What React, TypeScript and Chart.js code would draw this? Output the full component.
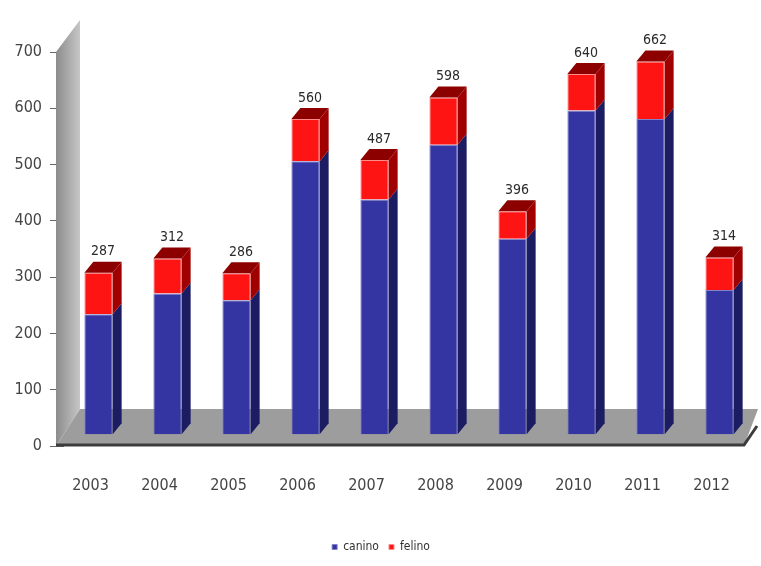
import React, { useEffect, useRef } from "react";
import { Chart, registerables } from "chart.js";

Chart.register(...registerables);

const years = ["2003", "2004", "2005", "2006", "2007", "2008", "2009", "2010", "2011", "2012"];
const canino = [213, 250, 238, 485, 417, 514, 347, 575, 560, 256];
const felino = [74, 62, 48, 75, 70, 84, 49, 65, 102, 58];
const totals = [287, 312, 286, 560, 487, 598, 396, 640, 662, 314];
const seriesNames = ["canino", "felino"];

const FONT = "'Liberation Sans Narrow', 'DejaVu Sans Condensed', 'Liberation Sans', Arial, sans-serif";
const DX = 9;
const DY = -11;

const scenePlugin = {
  id: "scene3d",
  beforeDatasetsDraw(chart: any) {
    const { ctx, chartArea } = chart;
    const L = chartArea.left, R = chartArea.right, T = chartArea.top, B = chartArea.bottom;
    ctx.save();
    const g = ctx.createLinearGradient(L - 9, 0, L + 16, 0);
    g.addColorStop(0, "#8a8a8a");
    g.addColorStop(1, "#c6c6c6");
    ctx.fillStyle = g;
    ctx.beginPath();
    ctx.moveTo(L - 8, T);
    ctx.lineTo(L + 16, T - 32);
    ctx.lineTo(L + 16, B - 37);
    ctx.lineTo(L - 8, B);
    ctx.closePath();
    ctx.fill();
    ctx.fillStyle = "#9d9d9d";
    ctx.beginPath();
    ctx.moveTo(L - 8, B);
    ctx.lineTo(L + 16, B - 37);
    ctx.lineTo(R + 4, B - 37);
    ctx.lineTo(R - 10, B);
    ctx.closePath();
    ctx.fill();
    ctx.strokeStyle = "#3c3c3c";
    ctx.lineWidth = 3;
    ctx.beginPath();
    ctx.moveTo(L - 8, B - 1);
    ctx.lineTo(R - 10, B - 1);
    ctx.lineTo(R + 3, B - 20);
    ctx.stroke();
    ctx.restore();
  },
  afterDatasetsDraw(chart: any) {
    const { ctx } = chart;
    const sides = ["#1c1c62", "#a00000"];
    const tops = ["#2a2a80", "#8c0000"];
    const n = chart.data.datasets.length;
    ctx.save();
    for (let d = 0; d < n; d++) {
      const meta = chart.getDatasetMeta(d);
      meta.data.forEach((el: any, i: number) => {
        const { x, y, base, width } = el.getProps(["x", "y", "base", "width"], true);
        const l = x - width / 2;
        const r = x + width / 2;
        ctx.fillStyle = sides[d];
        ctx.beginPath();
        ctx.moveTo(r, y);
        ctx.lineTo(r + DX, y + DY);
        ctx.lineTo(r + DX, base + DY);
        ctx.lineTo(r, base);
        ctx.closePath();
        ctx.fill();
        if (d === n - 1) {
          ctx.fillStyle = tops[d];
          ctx.beginPath();
          ctx.moveTo(l, y);
          ctx.lineTo(l + DX, y + DY);
          ctx.lineTo(r + DX, y + DY);
          ctx.lineTo(r, y);
          ctx.closePath();
          ctx.fill();
          ctx.fillStyle = "#2a2a2a";
          ctx.font = `14px ${FONT}`;
          ctx.textAlign = "center";
          ctx.textBaseline = "bottom";
          ctx.fillText(String(totals[i]), x + DX / 2, y + DY - 3);
        }
      });
    }
    ctx.restore();
  },
};

export default function App() {
  const ref = useRef<HTMLCanvasElement | null>(null);

  useEffect(() => {
    if (!ref.current) return;
    const chart = new Chart(ref.current, {
      type: "bar",
      data: {
        labels: years,
        datasets: [
          {
            label: seriesNames[0],
            data: canino,
            backgroundColor: "#3434a2",
            borderColor: "#8282cc",
            borderWidth: 1,
            yAxisID: "yb",
            barPercentage: 0.41,
            categoryPercentage: 1,
          },
          {
            label: seriesNames[1],
            data: felino,
            backgroundColor: "#ff1414",
            borderColor: "#ff8a8a",
            borderWidth: 1,
            yAxisID: "yb",
            barPercentage: 0.41,
            categoryPercentage: 1,
          },
        ],
      },
      options: {
        responsive: false,
        animation: false,
        layout: { padding: { left: 8, right: 7, top: 52, bottom: 3 } },
        plugins: {
          legend: {
            position: "bottom",
            labels: {
              boxWidth: 5,
              boxHeight: 5,
              padding: 10,
              color: "#333",
              font: { family: FONT, size: 12 },
            },
          },
          tooltip: { enabled: false },
        },
        scales: {
          x: {
            type: "category",
            stacked: true,
            offset: true,
            grid: { display: false },
            border: { display: false },
            ticks: {
              color: "#444",
              padding: 22,
              labelOffset: -8,
              font: { family: FONT, size: 16 },
            },
            afterFit(scale: any) {
              scale.height = 85;
            },
          },
          y: {
            position: "left",
            min: 0,
            max: 700,
            ticks: {
              stepSize: 100,
              color: "#444",
              padding: 8,
              font: { family: FONT, size: 16 },
            },
            grid: { drawOnChartArea: false, drawTicks: true, tickLength: 14, color: "#666" },
            border: { display: false },
            afterFit(scale: any) {
              scale.width = 56;
            },
          },
          yb: {
            display: false,
            stacked: true,
            min: -21,
            max: 679,
          },
        },
      },
      plugins: [scenePlugin],
    } as any);
    return () => chart.destroy();
  }, []);

  return (
    <div style={{ position: "fixed", left: 0, top: 0, width: 761, height: 566, background: "#fff" }}>
      <canvas ref={ref} width={761} height={566} style={{ display: "block" }} />
    </div>
  );
}
